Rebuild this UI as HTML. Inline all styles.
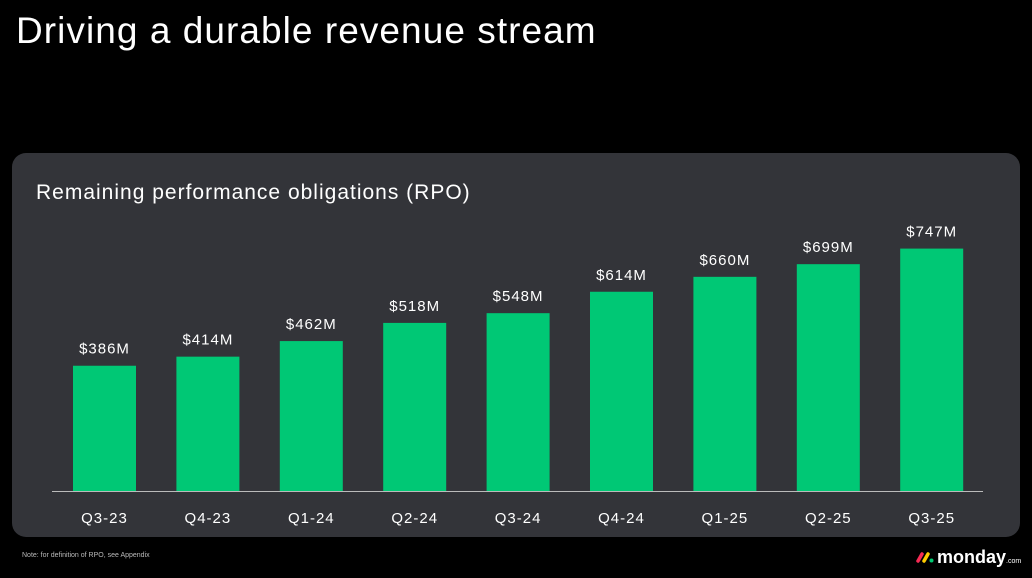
<!DOCTYPE html>
<html><head><meta charset="utf-8"><style>
body{margin:0;width:1032px;height:578px;background:#000;overflow:hidden;font-family:"Liberation Sans",sans-serif;color:#fff;position:relative}
#title{position:absolute;left:16px;top:10px;font-size:37px;font-weight:400;letter-spacing:1.05px}
#panel{position:absolute;left:12px;top:153px;width:1008px;height:384px;background:#333439;border-radius:14px}
#note{position:absolute;left:22px;top:552px;font-size:7px;color:#bbb}
#logo{position:absolute;left:916px;top:547px;font-size:18px;font-weight:700;display:flex;align-items:baseline}
</style></head><body>
<div id="title">Driving a durable revenue stream</div>
<div id="panel"></div>
<svg id="chart" width="1032" height="578" style="position:absolute;left:0;top:0">
<text x="36" y="199" font-size="21" letter-spacing="1" fill="#fff" font-family="Liberation Sans, sans-serif">Remaining performance obligations (RPO)</text>
<line x1="52" y1="491.5" x2="983" y2="491.5" stroke="#bbb" stroke-width="1"/>
</svg>
<div id="note">Note: for definition of RPO, see Appendix</div>
<div id="logo"><svg width="18" height="12" style="margin-right:3px"><line x1="2" y1="10" x2="6" y2="3" stroke="#f62b54" stroke-width="3.5" stroke-linecap="round"/><line x1="8" y1="10" x2="12" y2="3" stroke="#ffcc00" stroke-width="3.5" stroke-linecap="round"/><circle cx="15.5" cy="9.5" r="2" fill="#00ca72"/></svg>monday<span style="font-size:7px;font-weight:400">.com</span></div>
<script>
const categories=["Q3-23","Q4-23","Q1-24","Q2-24","Q3-24","Q4-24","Q1-25","Q2-25","Q3-25"];
const values=[386,414,462,518,548,614,660,699,747];
const labels=["$386M","$414M","$462M","$518M","$548M","$614M","$660M","$699M","$747M"];
const svg=document.getElementById('chart');
const NS='http://www.w3.org/2000/svg';
const baseY=491, scale=0.3245, x0=73, pitch=103.4, bw=63;
const xPos=i=>x0+i*pitch;
const yPos=v=>baseY-v*scale;
categories.forEach((c,i)=>{
  const r=document.createElementNS(NS,'rect');
  r.setAttribute('x',xPos(i));r.setAttribute('y',yPos(values[i]));
  r.setAttribute('width',bw);r.setAttribute('height',baseY-yPos(values[i]));
  r.setAttribute('fill','#00c875');
  
  
  svg.appendChild(r);
  const t=document.createElementNS(NS,'text');
  t.setAttribute('x',xPos(i)+bw/2);t.setAttribute('y',yPos(values[i])-12);
  t.setAttribute('text-anchor','middle');t.setAttribute('font-size','15');t.setAttribute('fill','#fff');
  t.setAttribute('letter-spacing','1');
  t.setAttribute('font-family','Liberation Sans, sans-serif');
  t.textContent=labels[i];
  
  
  svg.appendChild(t);
  const l=document.createElementNS(NS,'text');
  l.setAttribute('x',xPos(i)+bw/2);l.setAttribute('y',523);
  l.setAttribute('text-anchor','middle');l.setAttribute('font-size','15');l.setAttribute('fill','#fff');
  l.setAttribute('letter-spacing','1');
  l.setAttribute('font-family','Liberation Sans, sans-serif');
  l.textContent=c;
  
  
  svg.appendChild(l);
});
</script>
</body></html>
